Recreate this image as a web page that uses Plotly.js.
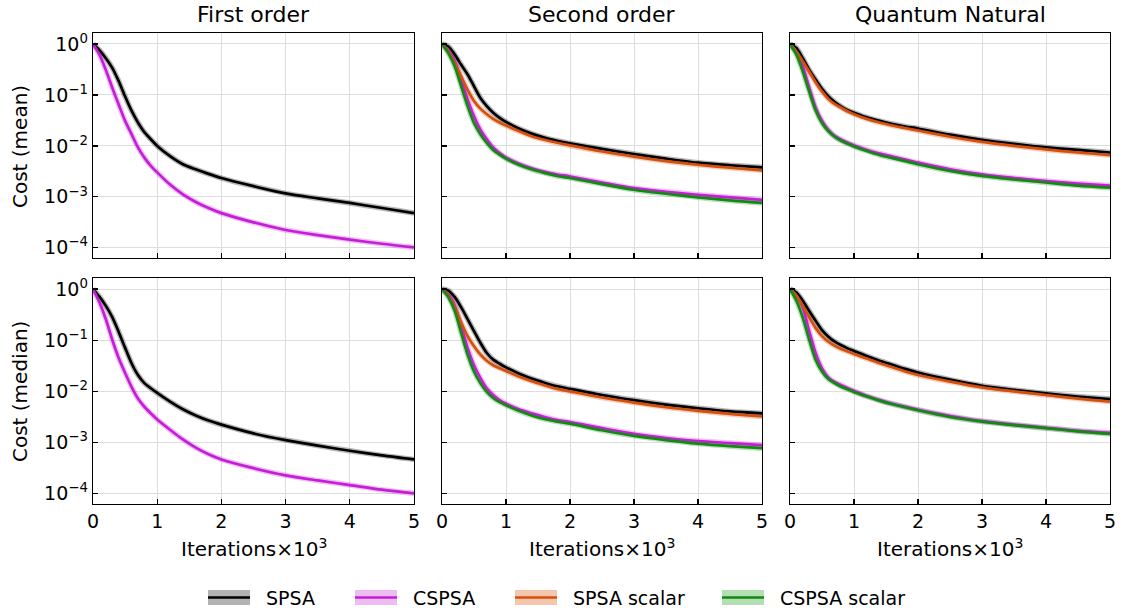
<!DOCTYPE html>
<html>
<head>
<meta charset="utf-8">
<script src="https://cdn.plot.ly/plotly-3.0.1.min.js"></script>
<style>html,body{margin:0;padding:0;background:#fff;}#chart{width:1126px;height:613px;}</style>
</head>
<body>
<div id="chart"></div>
<script>
// ---------- data ----------
const iters = [0, 0.1, 0.2, 0.3, 0.4, 0.5, 0.6, 0.7, 0.8, 0.9, 1.0, 1.2, 1.4, 1.6, 1.8, 2.0, 2.5, 3.0, 3.5, 4.0, 4.5, 5.0];

const seriesNames = ["SPSA", "CSPSA", "SPSA scalar", "CSPSA scalar"];
const columnTitles = ["First order", "Second order", "Quantum Natural"];
const rowTitles = ["Cost (mean)", "Cost (median)"];
const yTickVals = [1, 0.1, 0.01, 0.001, 0.0001];
const yTickText = ["10<sup>0</sup>", "10<sup>−1</sup>", "10<sup>−2</sup>", "10<sup>−3</sup>", "10<sup>−4</sup>"];
const xTickVals = [0, 1, 2, 3, 4, 5];

// First order, mean
const firstMeanSPSA  = [1, 0.759, 0.525, 0.339, 0.186, 0.0933, 0.049, 0.0288, 0.0186, 0.0135, 0.01, 0.00631, 0.00437, 0.00347, 0.00282, 0.00234, 0.00162, 0.00117, 0.000933, 0.000759, 0.000603, 0.000479];
const firstMeanCSPSA = [1, 0.617, 0.309, 0.138, 0.0646, 0.0309, 0.017, 0.00933, 0.00589, 0.00407, 0.00302, 0.00174, 0.00112, 0.000794, 0.000603, 0.000479, 0.000316, 0.000224, 0.000178, 0.000145, 0.00012, 0.000102];
// First order, median
const firstMedSPSA  = [1, 0.708, 0.468, 0.282, 0.145, 0.0708, 0.0355, 0.0209, 0.0145, 0.0115, 0.00933, 0.00631, 0.00447, 0.00339, 0.00269, 0.00224, 0.00151, 0.00112, 0.000871, 0.000692, 0.000562, 0.000468];
const firstMedCSPSA = [1, 0.55, 0.257, 0.102, 0.0447, 0.0229, 0.0123, 0.00724, 0.00501, 0.00372, 0.00282, 0.00178, 0.00115, 0.000794, 0.000589, 0.000468, 0.000316, 0.000229, 0.000182, 0.000148, 0.00012, 0.000102];

// Second order, mean
const secondMeanSPSA   = [1, 0.891, 0.617, 0.389, 0.251, 0.148, 0.0871, 0.0603, 0.0447, 0.0355, 0.0295, 0.0219, 0.0174, 0.0145, 0.0126, 0.0112, 0.00871, 0.00692, 0.00562, 0.00468, 0.00417, 0.0038];
const secondMeanCSPSA  = [1, 0.759, 0.457, 0.2, 0.0813, 0.038, 0.0209, 0.0135, 0.00933, 0.00724, 0.00589, 0.00447, 0.00363, 0.00309, 0.00275, 0.00251, 0.00191, 0.00148, 0.00126, 0.0011, 0.000977, 0.000871];
const secondMeanSPSAs  = [1, 0.708, 0.417, 0.229, 0.126, 0.0759, 0.0537, 0.0417, 0.0339, 0.0288, 0.0251, 0.0195, 0.0155, 0.0132, 0.0115, 0.0102, 0.00776, 0.00617, 0.00501, 0.00427, 0.00372, 0.00331];
const secondMeanCSPSAs = [1, 0.661, 0.363, 0.148, 0.0603, 0.0282, 0.017, 0.0115, 0.00832, 0.00676, 0.00562, 0.00427, 0.00347, 0.00295, 0.00257, 0.00234, 0.00178, 0.00138, 0.00115, 0.000977, 0.000851, 0.000759];
// Second order, median
const secondMedSPSA   = [1, 0.933, 0.692, 0.437, 0.257, 0.151, 0.0891, 0.0562, 0.0417, 0.0347, 0.0295, 0.0224, 0.0178, 0.0148, 0.0126, 0.0112, 0.00851, 0.00676, 0.0055, 0.00468, 0.00407, 0.00372];
const secondMedCSPSA  = [1, 0.794, 0.468, 0.191, 0.0708, 0.0324, 0.0182, 0.0115, 0.00851, 0.00676, 0.00575, 0.00447, 0.00372, 0.00316, 0.00275, 0.00251, 0.00191, 0.00148, 0.00123, 0.00107, 0.000977, 0.000891];
const secondMedSPSAs  = [1, 0.741, 0.437, 0.219, 0.12, 0.0759, 0.0525, 0.0398, 0.0324, 0.0282, 0.0251, 0.0195, 0.0158, 0.0132, 0.0112, 0.01, 0.00759, 0.00603, 0.0049, 0.00417, 0.00363, 0.00324];
const secondMedCSPSAs = [1, 0.692, 0.372, 0.138, 0.0525, 0.0245, 0.0145, 0.00977, 0.00741, 0.00617, 0.00537, 0.00417, 0.00339, 0.00288, 0.00257, 0.00234, 0.00174, 0.00135, 0.00112, 0.000955, 0.000851, 0.000776];

// Quantum natural, mean
const qnMeanSPSA   = [1, 0.832, 0.525, 0.309, 0.2, 0.132, 0.0933, 0.0724, 0.0589, 0.0501, 0.0447, 0.0363, 0.0309, 0.0269, 0.024, 0.0219, 0.0166, 0.0132, 0.011, 0.00933, 0.00832, 0.00741];
const qnMeanCSPSA  = [1, 0.708, 0.363, 0.138, 0.0562, 0.0309, 0.0204, 0.0155, 0.0132, 0.0115, 0.0102, 0.00832, 0.00708, 0.00617, 0.00537, 0.00468, 0.00347, 0.00275, 0.00234, 0.00204, 0.00182, 0.00166];
const qnMeanSPSAs  = [1, 0.708, 0.457, 0.288, 0.178, 0.117, 0.0832, 0.0661, 0.0562, 0.0479, 0.0417, 0.0339, 0.0288, 0.0251, 0.0224, 0.02, 0.0151, 0.012, 0.01, 0.00851, 0.00741, 0.00661];
const qnMeanCSPSAs = [1, 0.617, 0.288, 0.117, 0.0501, 0.0282, 0.0195, 0.0151, 0.0126, 0.011, 0.00977, 0.00794, 0.00661, 0.00575, 0.00501, 0.00437, 0.00324, 0.00257, 0.00219, 0.00191, 0.00166, 0.00151];
// Quantum natural, median
const qnMedSPSA   = [1, 0.851, 0.589, 0.372, 0.24, 0.158, 0.117, 0.0933, 0.0794, 0.0692, 0.0617, 0.049, 0.0398, 0.0331, 0.0275, 0.0234, 0.017, 0.0129, 0.0107, 0.00912, 0.00794, 0.00708];
const qnMedCSPSA  = [1, 0.741, 0.437, 0.151, 0.0562, 0.0282, 0.0186, 0.0151, 0.0132, 0.0115, 0.0102, 0.00813, 0.00676, 0.00575, 0.00501, 0.00437, 0.00331, 0.00263, 0.00224, 0.00195, 0.0017, 0.00155];
const qnMedSPSAs  = [1, 0.741, 0.468, 0.282, 0.174, 0.12, 0.0933, 0.0776, 0.0676, 0.0603, 0.0537, 0.0437, 0.0355, 0.0295, 0.0245, 0.0209, 0.0155, 0.012, 0.01, 0.00851, 0.00724, 0.00631];
const qnMedCSPSAs = [1, 0.589, 0.275, 0.102, 0.0417, 0.0245, 0.0174, 0.0145, 0.0123, 0.011, 0.00977, 0.00794, 0.00661, 0.00562, 0.0049, 0.00427, 0.00316, 0.00257, 0.00219, 0.00191, 0.00166, 0.00148];

// ---------- styling ----------
const lineColors = ["#000000", "#c41ed6", "#d4500c", "#108a10"];
const bandColors = ["rgba(0,0,0,0.28)", "rgba(196,30,214,0.28)", "rgba(212,80,12,0.28)", "rgba(16,138,16,0.28)"];
const legendPatchColors = ["#b3b3b3", "#edbdf2", "#f4c6ad", "#b3dfb3"];

const panels = [
  [
    [[0, firstMeanSPSA], [1, firstMeanCSPSA]],
    [[0, secondMeanSPSA], [1, secondMeanCSPSA], [2, secondMeanSPSAs], [3, secondMeanCSPSAs]],
    [[0, qnMeanSPSA], [1, qnMeanCSPSA], [2, qnMeanSPSAs], [3, qnMeanCSPSAs]]
  ],
  [
    [[0, firstMedSPSA], [1, firstMedCSPSA]],
    [[0, secondMedSPSA], [1, secondMedCSPSA], [2, secondMedSPSAs], [3, secondMedCSPSAs]],
    [[0, qnMedSPSA], [1, qnMedCSPSA], [2, qnMedSPSAs], [3, qnMedCSPSAs]]
  ]
];

const W = 1126, H = 613;
const colPx = [[93, 414], [442, 762], [790, 1110]];
const rowPx = [[33, 258], [278, 504]];
const FONT = "DejaVu Sans, sans-serif";

const traces = [];
const layout = {
  width: W, height: H,
  margin: {l: 0, r: 0, t: 0, b: 0},
  paper_bgcolor: "#ffffff", plot_bgcolor: "#ffffff",
  showlegend: false,
  font: {family: FONT, size: 19, color: "#000"},
  annotations: [], shapes: []
};

for (let r = 0; r < 2; r++) {
  for (let c = 0; c < 3; c++) {
    const idx = r * 3 + c + 1;
    const xa = idx === 1 ? "xaxis" : "xaxis" + idx;
    const ya = idx === 1 ? "yaxis" : "yaxis" + idx;
    const xr = idx === 1 ? "x" : "x" + idx;
    const yr = idx === 1 ? "y" : "y" + idx;
    layout[xa] = {
      domain: [colPx[c][0] / W, colPx[c][1] / W],
      anchor: yr, range: [0, 5], tickvals: xTickVals,
      showline: true, linecolor: "#000", linewidth: 1.3, mirror: true,
      ticks: "inside", ticklen: 5, tickwidth: 1.3, tickcolor: "#000",
      showgrid: true, gridcolor: "#dedede", gridwidth: 1, zeroline: false,
      showticklabels: r === 1, tickfont: {size: 19, family: FONT}
    };
    layout[ya] = {
      domain: [1 - rowPx[r][1] / H, 1 - rowPx[r][0] / H],
      anchor: xr, type: "log", range: [-4.2, 0.215],
      tickvals: yTickVals, ticktext: yTickText,
      showline: true, linecolor: "#000", linewidth: 1.3, mirror: true,
      ticks: "inside", ticklen: 5, tickwidth: 1.3, tickcolor: "#000",
      showgrid: true, gridcolor: "#dedede", gridwidth: 1, zeroline: false,
      showticklabels: c === 0, tickfont: {size: 19, family: FONT}
    };
    const list = panels[r][c];
    list.forEach(([s, vals]) => {
      traces.push({x: iters, y: vals, xaxis: xr, yaxis: yr, mode: "lines",
        line: {color: bandColors[s], width: 5.5, shape: "spline", smoothing: 0.8},
        hoverinfo: "skip", name: seriesNames[s] + " band"});
    });
    list.forEach(([s, vals]) => {
      traces.push({x: iters, y: vals, xaxis: xr, yaxis: yr, mode: "lines",
        line: {color: lineColors[s], width: 2.7, shape: "spline", smoothing: 0.8},
        name: seriesNames[s]});
    });
  }
}

columnTitles.forEach((t, c) => {
  layout.annotations.push({text: t, xref: "paper", yref: "paper",
    x: (colPx[c][0] + colPx[c][1]) / 2 / W, y: 1 - 14 / H,
    xanchor: "center", yanchor: "middle", showarrow: false,
    font: {size: 22, family: FONT, color: "#000"}});
  layout.annotations.push({text: "Iterations×10<sup>3</sup>", xref: "paper", yref: "paper",
    x: (colPx[c][0] + colPx[c][1]) / 2 / W, y: 1 - 548 / H,
    xanchor: "center", yanchor: "middle", showarrow: false,
    font: {size: 20, family: FONT, color: "#000"}});
});
const rowCenters = [147, 392];
rowTitles.forEach((t, r) => {
  layout.annotations.push({text: t, xref: "paper", yref: "paper",
    x: 20 / W, y: 1 - rowCenters[r] / H, textangle: -90,
    xanchor: "center", yanchor: "middle", showarrow: false,
    font: {size: 20, family: FONT, color: "#000"}});
});

// custom legend
const legPatchX = [208, 355, 515, 722];
const legPatchW = 42;
const legY0 = 590, legY1 = 605, legYm = 597.5;
seriesNames.forEach((n, s) => {
  const x0 = legPatchX[s] / W, x1 = (legPatchX[s] + legPatchW) / W;
  layout.shapes.push({type: "rect", xref: "paper", yref: "paper",
    x0: x0, x1: x1, y0: 1 - legY1 / H, y1: 1 - legY0 / H,
    fillcolor: legendPatchColors[s], line: {width: 0}});
  layout.shapes.push({type: "line", xref: "paper", yref: "paper",
    x0: x0, x1: x1, y0: 1 - legYm / H, y1: 1 - legYm / H,
    line: {color: lineColors[s], width: 2.7}});
  layout.annotations.push({text: n, xref: "paper", yref: "paper",
    x: (legPatchX[s] + legPatchW + 14) / W, y: 1 - legYm / H,
    xanchor: "left", yanchor: "middle", showarrow: false,
    font: {size: 19, family: FONT, color: "#000"}});
});

Plotly.newPlot("chart", traces, layout, {displayModeBar: false, staticPlot: true});
</script>
</body>
</html>
